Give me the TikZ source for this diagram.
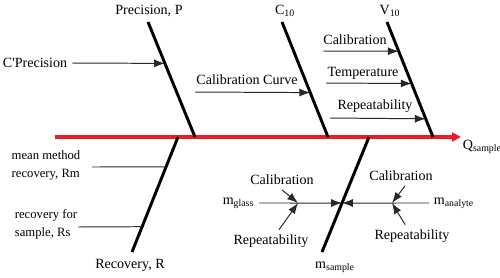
\documentclass[tikz,border=0pt]{standalone}
\usepackage{fontspec}
\setmainfont{Liberation Serif}
\usetikzlibrary{arrows.meta, calc}
\definecolor{spinered}{RGB}{237, 28, 36}
\definecolor{bonedraw}{RGB}{0, 0, 0}
\definecolor{causedraw}{RGB}{40, 40, 40}

\begin{document}
\begin{tikzpicture}[
    x=0.025cm, y=-0.025cm, % 以像素为单位 (y 向下)
    >={Latex[length=2.7mm, width=2mm]},
    font=\fontsize{10}{12}\selectfont,
    % 定义组件样式
    spine/.style={-{Triangle[length=2.2mm, width=2.2mm]}, line width=2.8pt, draw=spinered},
    bone/.style={-, line width=2.1pt, draw=bonedraw},
    cause/.style={->, line width=0.7pt, draw=causedraw},
    plainline/.style={-, line width=0.7pt, draw=causedraw},
    txt/.style={inner sep=3.3pt, align=center},
    sidetxt/.style={inner sep=3.3pt, align=left, font=\fontsize{9}{12.8}\selectfont}
]

% 主干高度定义
\def\Spine{137}

\useasboundingbox (0, 0) rectangle (500, 277);

% ==========================================
% 1. 红色主干线与结果
% ==========================================
\coordinate (tail) at (55, \Spine);
\coordinate (head) at (461, \Spine);
\draw[spine] (tail) -- (head);
\node[txt, anchor=west] (qsample) at (458, 147) {Q\textsubscript{sample}};

% ==========================================
% 2. 上方三根骨 (Precision, C10, V10)
% ==========================================
\coordinate (p_top) at (148, 22);
\coordinate (p_bot) at (195, \Spine);
\coordinate (c_top) at (282, 22);
\coordinate (c_bot) at (328, \Spine);
\coordinate (v_top) at (387, 22);
\coordinate (v_bot) at (433, \Spine);
\draw[bone] (p_top) -- (p_bot);
\draw[bone] (c_top) -- (c_bot);
\draw[bone] (v_top) -- (v_bot);

\node[txt] (prec) at (149, 11) {Precision, P};
\node[txt] (c10)  at (285, 11) {C\textsubscript{10}};
\node[txt] (v10)  at (390, 11) {V\textsubscript{10}};

% Precision 的因素
\node[txt] (cprec) at (35, 63) {C\textquotesingle Precision};
\draw[cause] (cprec.east) -- ($(p_top)!0.36!(p_bot)$);

% C10 的因素 (文字在横线上方)
\node[txt] (calcurve) at (247, 80) {Calibration Curve};
\coordinate (cc_s) at (195, 92);
\draw[cause] (cc_s) -- ($(c_top)!0.614!(c_bot)$);

% V10 的三个因素
\node[txt] (cal_v) at (355, 40)  {Calibration};
\node[txt] (tmp_v) at (363, 73)  {Temperature};
\node[txt] (rep_v) at (375, 106) {Repeatability};
\coordinate (cal_s) at (323, 51);
\coordinate (tmp_s) at (326, 83);
\coordinate (rep_s) at (330, 118);
\draw[cause] (cal_s) -- ($(v_top)!0.254!(v_bot)$);
\draw[cause] (tmp_s) -- ($(v_top)!0.535!(v_bot)$);
\draw[cause] (rep_s) -- ($(v_top)!0.842!(v_bot)$);

% ==========================================
% 3. 下方左侧骨 (Recovery, R)
% ==========================================
\coordinate (r_top) at (178, \Spine);
\coordinate (r_bot) at (132, 252);
\draw[bone] (r_top) -- (r_bot);
\node[txt] (recov) at (130, 265) {Recovery, R};

\node[sidetxt] (rm) at (46, 165) {mean method\\recovery, Rm};
\node[sidetxt] (rs) at (46, 224) {recovery for\\sample, Rs};
\coordinate (rm_s) at (92, 167);
\coordinate (rs_s) at (78, 227);
\draw[plainline] (rm_s) -- ($(r_top)!0.26!(r_bot)$);
\draw[plainline] (rs_s) -- ($(r_top)!0.78!(r_bot)$);

% ==========================================
% 4. 下方右侧骨 (m_sample) 与两侧质量
% ==========================================
\coordinate (m_top) at (369, \Spine);
\coordinate (m_bot) at (322, 252);
\draw[bone] (m_top) -- (m_bot);
\node[txt] (msample) at (335, 267) {m\textsubscript{sample}};

\coordinate (mx) at ($(m_top)!0.574!(m_bot)$);
\node[txt, anchor=east] (mglass)   at (259, 203) {m\textsubscript{glass}};
\node[txt, anchor=west] (manalyte) at (429, 203) {m\textsubscript{analyte}};
\draw[cause] (mglass.east) -- (mx);
\draw[cause] (manalyte.west) -- (mx);

% 两侧的汇合点
\coordinate (jl) at (298, 203);
\coordinate (jr) at (392, 203);

\node[txt] (cal_l) at (282, 180) {Calibration};
\node[txt] (rep_l) at (271, 241) {Repeatability};
\node[txt] (cal_r) at (401, 176) {Calibration};
\node[txt] (rep_r) at (412, 236) {Repeatability};

\draw[cause] (cal_l.south) -- (jl);
\draw[cause] (rep_l) -- (jl);
\draw[cause] ([xshift=1mm]cal_r.south) -- (jr);
\draw[cause] (rep_r) -- (jr);

\end{tikzpicture}
\end{document}
